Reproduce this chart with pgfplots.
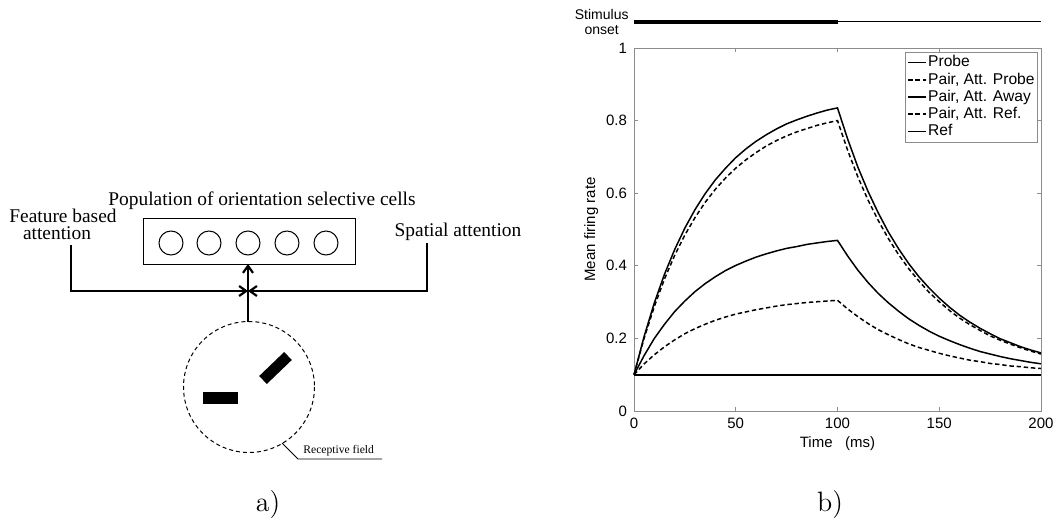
\documentclass[border=0pt]{standalone}
\usepackage{fontspec}
\usepackage{pgfplots}
\usepackage{pgfplotstable}
\pgfplotsset{compat=1.18}
\usetikzlibrary{arrows.meta}
\newfontfamily\serif{Liberation Serif}
\newfontfamily\sans{Liberation Sans}

% mean firing rate of the five conditions, t in ms
\pgfplotstableread{
t   probe pprobe paway pref
0   0.100 0.100 0.100 0.100
5   0.206 0.201 0.153 0.130
10  0.298 0.288 0.200 0.155
15  0.377 0.364 0.239 0.177
20  0.445 0.429 0.274 0.196
25  0.504 0.485 0.303 0.213
30  0.555 0.533 0.329 0.227
35  0.599 0.575 0.351 0.239
40  0.637 0.611 0.370 0.250
45  0.669 0.642 0.387 0.259
50  0.698 0.669 0.401 0.267
55  0.722 0.692 0.413 0.273
60  0.743 0.712 0.424 0.279
65  0.761 0.730 0.433 0.284
70  0.777 0.745 0.441 0.289
75  0.791 0.758 0.448 0.293
80  0.802 0.769 0.453 0.296
85  0.812 0.778 0.459 0.299
90  0.821 0.787 0.463 0.301
95  0.829 0.794 0.467 0.303
100 0.835 0.800 0.470 0.305
105 0.749 0.718 0.427 0.281
110 0.672 0.645 0.388 0.260
115 0.605 0.581 0.354 0.241
120 0.546 0.525 0.324 0.224
125 0.493 0.475 0.298 0.210
130 0.447 0.431 0.275 0.197
135 0.406 0.392 0.254 0.185
140 0.370 0.358 0.236 0.175
145 0.339 0.327 0.220 0.167
150 0.311 0.301 0.206 0.159
155 0.286 0.277 0.194 0.152
160 0.264 0.256 0.183 0.146
165 0.245 0.238 0.173 0.140
170 0.228 0.222 0.164 0.136
175 0.213 0.207 0.157 0.131
180 0.199 0.195 0.150 0.128
185 0.188 0.184 0.144 0.124
190 0.177 0.174 0.139 0.122
195 0.168 0.165 0.134 0.119
200 0.160 0.157 0.130 0.117
}\rates

\begin{document}
\begin{tikzpicture}
\useasboundingbox (0,0) rectangle (528pt,-262pt);

% ---- a) diagram, coordinates in pixels (y down)
\begin{scope}[x=0.5pt,y=-0.5pt,font=\serif\fontsize{9.7}{10}\selectfont]
  \node at (262,201) {Population of orientation selective cells};
  \node[anchor=base, inner sep=0pt, text depth=0pt] at (63,222) {Feature based};
  \node[anchor=base, inner sep=0pt, text depth=0pt] at (57,240) {attention};
  \node at (458,232) {Spatial attention};
  \draw[line width=0.5pt] (143,219) rectangle (355,264);
  \foreach \cx in {171,209,248,287,326}
    \draw[line width=0.5pt] (\cx,243) circle (12);
  \draw[line width=1.1pt,-{Straight Barb[length=3.5pt,width=5pt]}] (71,245) -- (71,291) -- (248,291);
  \draw[line width=1.1pt,-{Straight Barb[length=3.5pt,width=5pt]}] (427,243) -- (427,291) -- (248,291);
  \draw[line width=1.1pt,-{Straight Barb[length=3.5pt,width=5pt]}] (248,322) -- (248,264);
  \draw[line width=0.5pt,dash pattern=on 2pt off 1.5pt] (249,387) circle (65.5);
  \fill (203,392) rectangle (238,404);
  \fill (259.2,376) -- (266.8,384) -- (291.8,360) -- (284.2,352) -- cycle;
  \draw[line width=0.4pt] (282,443) -- (298,459) -- (382,459);
  \node[anchor=south west,inner sep=0.5pt,font=\serif\fontsize{5.8}{6}\selectfont] at (302,457) {Receptive field};
  \node[font=\fontsize{14}{16}\selectfont] at (268,505) {a)};
  \node[font=\fontsize{14}{16}\selectfont] at (830,505) {b)};
\end{scope}

% ---- b) firing rate plot
\begin{axis}[
    at={(317pt,-205.5pt)}, anchor=south west,
    scale only axis, width=203.5pt, height=181.5pt,
    xmin=0, xmax=200, ymin=0, ymax=1,
    xtick={0,50,100,150,200},
    ytick={0,0.2,0.4,0.6,0.8,1},
    tick align=inside, tick pos=both,
    major tick length=2pt,
    axis line style={black!45},
    every tick/.style={black!45},
    clip=false,
    /pgf/number format/assume math mode=true,
    tick label style={font=\sans\fontsize{7.5}{8}\selectfont},
    label style={font=\sans\fontsize{7.5}{8}\selectfont},
    xlabel={Time\ \ \ (ms)},
    ylabel={Mean firing rate},
    xlabel style={yshift=3pt},
    ylabel style={yshift=-3pt},
    legend style={at={(0.993,0.99)}, anchor=north east, draw=black!45,
      font=\sans\fontsize{7.8}{8.9}\selectfont, inner sep=1pt,
      nodes={inner sep=0.6pt, text height=5.8pt, text depth=1.6pt}},
    legend cell align=left,
    legend image code/.code={\draw[#1] (0pt,0pt) -- (9pt,0pt);},
]
\addplot[black, solid, no markers, line width=0.75pt] table[x=t, y=probe] {\rates};
\addlegendentry{Probe}
\addplot[black, no markers, line width=0.75pt, dash pattern=on 2.2pt off 1.4pt] table[x=t, y=pprobe] {\rates};
\addlegendentry{Pair, Att. Probe}
\addplot[black, solid, no markers, line width=0.75pt] table[x=t, y=paway] {\rates};
\addlegendentry{Pair, Att. Away}
\addplot[black, no markers, line width=0.75pt, dash pattern=on 2.2pt off 1.4pt] table[x=t, y=pref] {\rates};
\addlegendentry{Pair, Att. Ref.}
\addplot[black, solid, no markers, line width=0.85pt] coordinates {(0,0.1) (200,0.1)};
\addlegendentry{Ref}
% stimulus bar above the axis
\addplot[black, no markers, line width=2pt, forget plot] coordinates {(0,1.072) (100,1.072)};
\addplot[black, no markers, line width=0.6pt, forget plot] coordinates {(100,1.072) (200,1.072)};
\node[anchor=east, align=center, font=\sans\fontsize{7}{7.6}\selectfont, inner sep=1pt]
  at (axis cs:-1.5,1.072) {Stimulus\\onset};
\end{axis}
\end{tikzpicture}
\end{document}
